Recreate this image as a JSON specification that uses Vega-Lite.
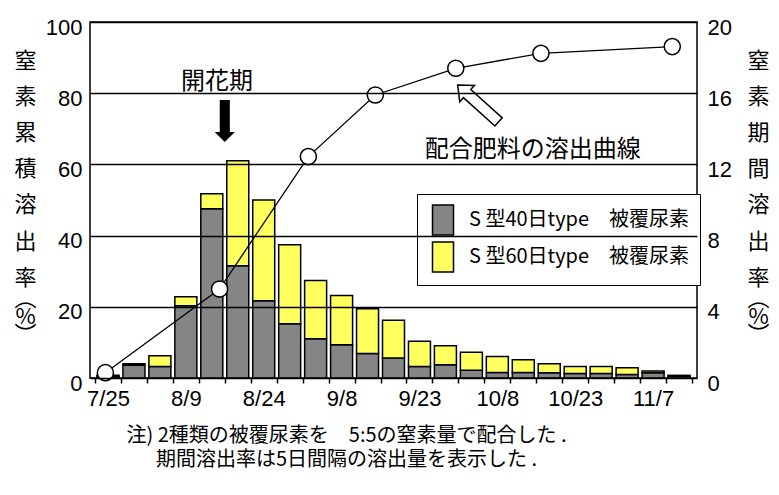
{
  "$schema": "https://vega.github.io/schema/vega-lite/v6.json",
  "width": 607,
  "height": 356,
  "autosize": {"type": "none"},
  "padding": {"left": 90, "top": 22, "right": 82, "bottom": 117},
  "background": "white",
  "config": {
    "view": {"stroke": "black", "strokeWidth": 1.5},
    "font": "Noto Sans CJK JP",
    "axis": {
      "labelColor": "black",
      "titleColor": "black",
      "labelFont": "Liberation Sans",
      "titleFont": "Noto Sans CJK JP",
      "titleFontWeight": "normal",
      "grid": false,
      "domain": false,
      "ticks": false
    }
  },
  "datasets": {
    "release": [
      {"date": "7/25", "day": 0, "type": "S 型40日type　被覆尿素", "rate": 0.1},
      {"date": "7/25", "day": 0, "type": "S 型60日type　被覆尿素", "rate": 0.05},
      {"date": "7/30", "day": 5, "type": "S 型40日type　被覆尿素", "rate": 0.72},
      {"date": "7/30", "day": 5, "type": "S 型60日type　被覆尿素", "rate": 0.08},
      {"date": "8/4", "day": 10, "type": "S 型40日type　被覆尿素", "rate": 0.65},
      {"date": "8/4", "day": 10, "type": "S 型60日type　被覆尿素", "rate": 0.6},
      {"date": "8/9", "day": 15, "type": "S 型40日type　被覆尿素", "rate": 4.06},
      {"date": "8/9", "day": 15, "type": "S 型60日type　被覆尿素", "rate": 0.51},
      {"date": "8/14", "day": 20, "type": "S 型40日type　被覆尿素", "rate": 9.51},
      {"date": "8/14", "day": 20, "type": "S 型60日type　被覆尿素", "rate": 0.84},
      {"date": "8/19", "day": 25, "type": "S 型40日type　被覆尿素", "rate": 6.31},
      {"date": "8/19", "day": 25, "type": "S 型60日type　被覆尿素", "rate": 5.9},
      {"date": "8/24", "day": 30, "type": "S 型40日type　被覆尿素", "rate": 4.34},
      {"date": "8/24", "day": 30, "type": "S 型60日type　被覆尿素", "rate": 5.66},
      {"date": "8/29", "day": 35, "type": "S 型40日type　被覆尿素", "rate": 3.05},
      {"date": "8/29", "day": 35, "type": "S 型60日type　被覆尿素", "rate": 4.44},
      {"date": "9/3", "day": 40, "type": "S 型40日type　被覆尿素", "rate": 2.21},
      {"date": "9/3", "day": 40, "type": "S 型60日type　被覆尿素", "rate": 3.27},
      {"date": "9/8", "day": 45, "type": "S 型40日type　被覆尿素", "rate": 1.87},
      {"date": "9/8", "day": 45, "type": "S 型60日type　被覆尿素", "rate": 2.77},
      {"date": "9/13", "day": 50, "type": "S 型40日type　被覆尿素", "rate": 1.37},
      {"date": "9/13", "day": 50, "type": "S 型60日type　被覆尿素", "rate": 2.52},
      {"date": "9/18", "day": 55, "type": "S 型40日type　被覆尿素", "rate": 1.12},
      {"date": "9/18", "day": 55, "type": "S 型60日type　被覆尿素", "rate": 2.12},
      {"date": "9/23", "day": 60, "type": "S 型40日type　被覆尿素", "rate": 0.65},
      {"date": "9/23", "day": 60, "type": "S 型60日type　被覆尿素", "rate": 1.41},
      {"date": "9/28", "day": 65, "type": "S 型40日type　被覆尿素", "rate": 0.75},
      {"date": "9/28", "day": 65, "type": "S 型60日type　被覆尿素", "rate": 1.06},
      {"date": "10/3", "day": 70, "type": "S 型40日type　被覆尿素", "rate": 0.43},
      {"date": "10/3", "day": 70, "type": "S 型60日type　被覆尿素", "rate": 1.01},
      {"date": "10/8", "day": 75, "type": "S 型40日type　被覆尿素", "rate": 0.31},
      {"date": "10/8", "day": 75, "type": "S 型60日type　被覆尿素", "rate": 0.9},
      {"date": "10/13", "day": 80, "type": "S 型40日type　被覆尿素", "rate": 0.31},
      {"date": "10/13", "day": 80, "type": "S 型60日type　被覆尿素", "rate": 0.72},
      {"date": "10/18", "day": 85, "type": "S 型40日type　被覆尿素", "rate": 0.3},
      {"date": "10/18", "day": 85, "type": "S 型60日type　被覆尿素", "rate": 0.5},
      {"date": "10/23", "day": 90, "type": "S 型40日type　被覆尿素", "rate": 0.25},
      {"date": "10/23", "day": 90, "type": "S 型60日type　被覆尿素", "rate": 0.4},
      {"date": "10/28", "day": 95, "type": "S 型40日type　被覆尿素", "rate": 0.25},
      {"date": "10/28", "day": 95, "type": "S 型60日type　被覆尿素", "rate": 0.4},
      {"date": "11/2", "day": 100, "type": "S 型40日type　被覆尿素", "rate": 0.2},
      {"date": "11/2", "day": 100, "type": "S 型60日type　被覆尿素", "rate": 0.38},
      {"date": "11/7", "day": 105, "type": "S 型40日type　被覆尿素", "rate": 0.3},
      {"date": "11/7", "day": 105, "type": "S 型60日type　被覆尿素", "rate": 0.1},
      {"date": "11/12", "day": 110, "type": "S 型40日type　被覆尿素", "rate": 0.1},
      {"date": "11/12", "day": 110, "type": "S 型60日type　被覆尿素", "rate": 0.05}
    ],
    "curve": [
      {"day": -0.5, "cumulative": 1.5},
      {"day": 21.5, "cumulative": 25.0},
      {"day": 38.6, "cumulative": 62.2},
      {"day": 51.5, "cumulative": 79.5},
      {"day": 67.0, "cumulative": 87.0},
      {"day": 83.4, "cumulative": 91.2},
      {"day": 108.7, "cumulative": 93.1}
    ],
    "labels": [
      {"text": "開花期", "day": 21.0, "cumulative": 83.2},
      {"text": "配合肥料の溶出曲線", "day": 81.8, "cumulative": 64.1}
    ],
    "arrows": [
      {"target": "開花期", "day": 22.5, "cumulative": 72.2},
      {"target": "配合肥料の溶出曲線", "day": 71.3, "cumulative": 77.1}
    ]
  },
  "resolve": {
    "scale": {"y": "independent"},
    "axis": {"x": "independent", "y": "independent"}
  },
  "layer": [
    {
      "data": {"name": "release"},
      "mark": {"type": "bar", "width": 22, "stroke": "black", "strokeWidth": 1.5},
      "encoding": {
        "x": {
          "field": "day",
          "type": "quantitative",
          "scale": {"domain": [-2.5, 112.5], "nice": false, "zero": false},
          "axis": {
            "orient": "bottom",
            "values": [-2.5, 2.5, 7.5, 12.5, 17.5, 22.5, 27.5, 32.5, 37.5, 42.5, 47.5, 52.5, 57.5, 62.5, 67.5, 72.5, 77.5, 82.5, 87.5, 92.5, 97.5, 102.5, 107.5, 112.5],
            "labels": false,
            "ticks": true,
            "tickSize": 5,
            "tickColor": "black",
            "tickWidth": 1.5,
            "domain": false,
            "title": null
          }
        },
        "y": {
          "field": "rate",
          "type": "quantitative",
          "stack": "zero",
          "scale": {"domain": [0, 20], "nice": false, "zero": true},
          "axis": {
            "orient": "right",
            "values": [0, 4, 8, 12, 16, 20],
            "labelFontSize": 22,
            "labelPadding": 10,
            "labelOffset": 5,
            "title": ["窒", "素", "期", "間", "溶", "出", "率"],
            "titleAngle": 0,
            "titleFontSize": 22,
            "titleLineHeight": 36.2,
            "titleX": 61,
            "titleY": 45,
            "titleAlign": "center",
            "titleBaseline": "alphabetic"
          }
        },
        "color": {
          "field": "type",
          "type": "nominal",
          "scale": {
            "domain": ["S 型40日type　被覆尿素", "S 型60日type　被覆尿素"],
            "range": ["#858585", "#ffff5e"]
          },
          "legend": {
            "orient": "none",
            "legendX": 327,
            "legendY": 172,
            "title": null,
            "direction": "vertical",
            "strokeColor": "black",
            "fillColor": "white",
            "padding": 10,
            "symbolType": "M-0.7,-1L0.7,-1L0.7,1L-0.7,1Z",
            "symbolSize": 900,
            "symbolStrokeColor": "black",
            "symbolStrokeWidth": 1.5,
            "symbolOpacity": 1,
            "labelFontSize": 20,
            "labelFont": "Noto Sans CJK JP",
            "labelColor": "black",
            "labelOffset": 10,
            "rowPadding": 1,
            "labelLimit": 400
          }
        },
        "order": {"field": "type", "sort": "ascending"}
      }
    },
    {
      "data": {"name": "curve"},
      "mark": {"type": "line", "color": "black", "strokeWidth": 1.3},
      "encoding": {
        "x": {
          "field": "day",
          "type": "quantitative",
          "axis": {
            "orient": "bottom",
            "values": [0, 15, 30, 45, 60, 75, 90, 105],
            "labelExpr": "['7/25','8/9','8/24','9/8','9/23','10/8','10/23','11/7'][round(datum.value/15)]",
            "labelFontSize": 22,
            "labelPadding": 10,
            "title": ["注) 2種類の被覆尿素を　5:5の窒素量で配合した .", "期間溶出率は5日間隔の溶出量を表示した ."],
            "titleFontSize": 20,
            "titleLineHeight": 24,
            "titleX": 256,
            "titleY": 63,
            "titleAlign": "center",
            "titleBaseline": "alphabetic"
          }
        },
        "y": {
          "field": "cumulative",
          "type": "quantitative",
          "scale": {"domain": [0, 100], "nice": false},
          "axis": {
            "orient": "left",
            "values": [0, 20, 40, 60, 80, 100],
            "labelFontSize": 22,
            "labelPadding": 8,
            "labelOffset": 5,
            "grid": true,
            "gridColor": "black",
            "gridWidth": 1.5,
            "gridOpacity": 1,
            "zindex": 1,
            "title": ["窒", "素", "累", "積", "溶", "出", "率"],
            "titleAngle": 0,
            "titleFontSize": 22,
            "titleLineHeight": 36.2,
            "titleX": -65,
            "titleY": 45,
            "titleAlign": "center",
            "titleBaseline": "alphabetic"
          }
        }
      }
    },
    {
      "data": {"name": "curve"},
      "mark": {"type": "point", "shape": "circle", "size": 260, "filled": true, "fill": "white", "stroke": "black", "strokeWidth": 1.5, "opacity": 1},
      "encoding": {
        "x": {"field": "day", "type": "quantitative", "axis": null},
        "y": {
          "field": "cumulative",
          "type": "quantitative",
          "scale": {"domain": [0, 100], "nice": false},
          "axis": {
            "orient": "left",
            "labels": false,
            "grid": false,
            "title": ["︵", "%", "︶"],
            "titleAngle": 0,
            "titleFontSize": 22,
            "titleLineHeight": 18,
            "titleX": -65,
            "titleY": 283,
            "titleAlign": "center",
            "titleBaseline": "alphabetic"
          }
        }
      }
    },
    {
      "data": {"name": "labels"},
      "mark": {"type": "text", "fontSize": 24, "font": "Noto Sans CJK JP", "color": "black", "align": "center", "baseline": "middle"},
      "encoding": {
        "x": {"field": "day", "type": "quantitative", "axis": null},
        "y": {
          "field": "cumulative",
          "type": "quantitative",
          "scale": {"domain": [0, 100], "nice": false},
          "axis": {
            "orient": "right",
            "labels": false,
            "grid": false,
            "title": ["︵", "%", "︶"],
            "titleAngle": 0,
            "titleFontSize": 22,
            "titleLineHeight": 18,
            "titleX": 61,
            "titleY": 283,
            "titleAlign": "center",
            "titleBaseline": "alphabetic"
          }
        },
        "text": {"field": "text", "type": "nominal"}
      }
    },
    {
      "data": {"name": "arrows"},
      "transform": [{"filter": "datum.target === '開花期'"}],
      "mark": {"type": "point", "shape": "M-0.24,-1L0.24,-1L0.24,0.52L0.48,0.52L0,1L-0.48,0.52L-0.24,0.52Z", "size": 1764, "filled": true, "fill": "black", "strokeWidth": 0, "opacity": 1},
      "encoding": {
        "x": {"field": "day", "type": "quantitative", "axis": null},
        "y": {"field": "cumulative", "type": "quantitative", "scale": {"domain": [0, 100], "nice": false}, "axis": null}
      }
    },
    {
      "data": {"name": "arrows"},
      "transform": [{"filter": "datum.target === '配合肥料の溶出曲線'"}],
      "mark": {"type": "point", "shape": "M0,-1L0.4,-0.54L0.2,-0.54L0.2,1L-0.2,1L-0.2,-0.54L-0.4,-0.54Z", "size": 3025, "angle": -48, "filled": true, "fill": "white", "stroke": "black", "strokeWidth": 1.5, "opacity": 1},
      "encoding": {
        "x": {"field": "day", "type": "quantitative", "axis": null},
        "y": {"field": "cumulative", "type": "quantitative", "scale": {"domain": [0, 100], "nice": false}, "axis": null}
      }
    }
  ]
}
